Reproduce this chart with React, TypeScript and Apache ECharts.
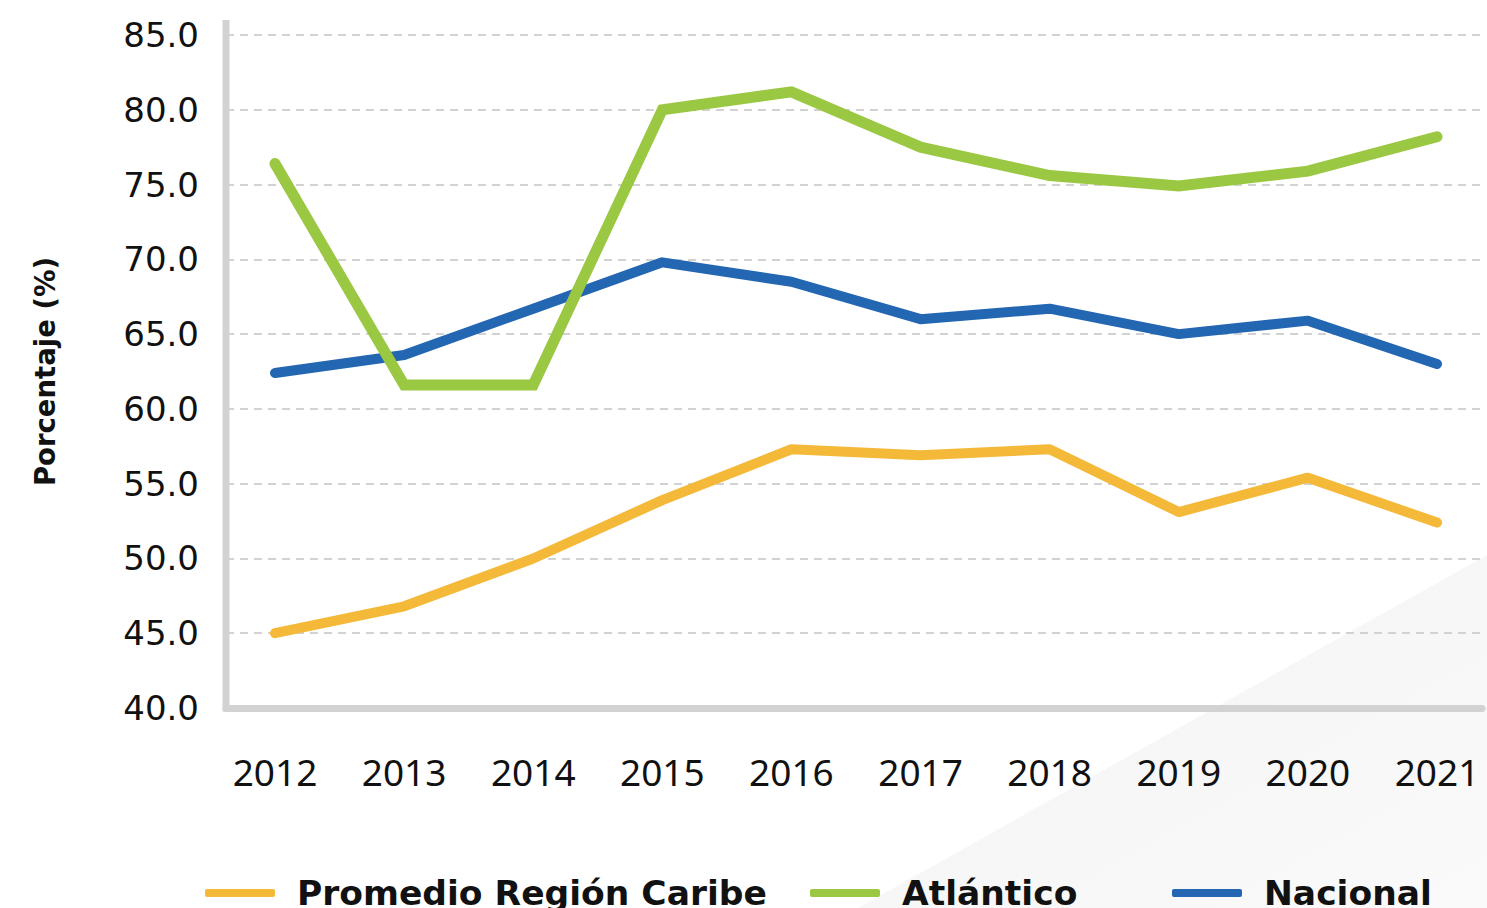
import React, { useEffect, useRef } from "react";
import * as echarts from "echarts";

const years = ["2012", "2013", "2014", "2015", "2016", "2017", "2018", "2019", "2020", "2021"];
const caribe = [45.0, 46.8, 50.0, 53.9, 57.3, 56.9, 57.3, 53.1, 55.4, 52.4];
const atlantico = [76.4, 61.6, 61.6, 80.0, 81.2, 77.5, 75.6, 74.9, 75.9, 78.2];
const nacional = [62.4, 63.6, 66.7, 69.8, 68.5, 66.0, 66.7, 65.0, 65.9, 63.0];
const seriesNames = ["Promedio Región Caribe", "Atlántico", "Nacional"];
const yMin = 40;
const yMax = 85;
const yStep = 5;

const COLORS = { caribe: "#F4B938", atlantico: "#9BC843", nacional: "#2366B1" };
const FONT = "'Noto Sans', sans-serif";
const WIDE = "'DejaVu Sans', sans-serif";

export default function App() {
  const ref = useRef<HTMLDivElement>(null);
  useEffect(() => {
    if (!ref.current) return;
    const chart = echarts.init(ref.current, null, { renderer: "svg" });
    const legendBase = {
      orient: "horizontal",
      top: 868,
      itemWidth: 70,
      itemHeight: 8,
      icon: "roundRect",
      selectedMode: false,
      textStyle: {
        fontFamily: WIDE,
        fontSize: 34.5,
        fontWeight: "bold",
        color: "#111",
        padding: [0, 0, 0, 17],
        lineHeight: 40,
      },
    };
    chart.setOption({
      animation: false,
      backgroundColor: "#ffffff",
      graphic: [
        {
          type: "polygon",
          z: -10,
          silent: true,
          shape: { points: [[858, 908], [1487, 555], [1487, 908]] },
          style: {
            fill: new echarts.graphic.LinearGradient(0, 0, 1, 1, [
              { offset: 0, color: "#f3f3f3" },
              { offset: 1, color: "#fafafa" },
            ]),
          },
        },
        {
          type: "line",
          z: 5,
          silent: true,
          shape: { x1: 226, y1: 20, x2: 226, y2: 711.5 },
          style: { stroke: "#d2d2d2", lineWidth: 7 },
        },
      ],
      legend: [
        { ...legendBase, left: 200, data: [seriesNames[0]] },
        { ...legendBase, left: 805, data: [seriesNames[1]] },
        { ...legendBase, left: 1167, data: [seriesNames[2]] },
      ],
      grid: [
        { left: 226, right: 5, top: 35, bottom: 200 },
        { left: 275, right: 50, top: 35, bottom: 200 },
      ],
      xAxis: [
        {
          gridIndex: 0,
          type: "value",
          min: 0,
          max: 1,
          axisLine: { show: true, lineStyle: { color: "#d2d2d2", width: 7 } },
          axisTick: { show: false },
          axisLabel: { show: false },
          splitLine: { show: false },
        },
        {
          gridIndex: 1,
          type: "category",
          boundaryGap: false,
          data: years,
          axisLine: { show: false },
          axisTick: { show: false },
          axisLabel: {
            margin: 45,
            fontFamily: FONT,
            fontSize: 37,
            color: "#111",
          },
          splitLine: { show: false },
        },
      ],
      yAxis: [
        {
          gridIndex: 0,
          type: "value",
          min: yMin,
          max: yMax,
          interval: yStep,
          name: "Porcentaje (%)",
          nameLocation: "middle",
          nameRotate: 90,
          nameGap: 155,
          nameTextStyle: {
            fontFamily: WIDE,
            fontSize: 27.5,
            fontWeight: "bold",
            color: "#111",
            padding: [0, 0, 12, 0],
          },
          axisLine: { show: false },
          axisTick: { show: false },
          axisLabel: {
            margin: 27,
            fontFamily: WIDE,
            fontSize: 34,
            color: "#111",
            formatter: (v: number) => v.toFixed(1),
          },
          splitLine: {
            show: true,
            lineStyle: { color: "#d2d2d2", width: 2, type: [8, 6] },
          },
        },
        {
          gridIndex: 1,
          type: "value",
          min: yMin,
          max: yMax,
          show: false,
          splitLine: { show: false },
        },
      ],
      series: [
        {
          name: seriesNames[2],
          type: "line",
          xAxisIndex: 1,
          yAxisIndex: 1,
          data: nacional,
          symbol: "none",
          color: COLORS.nacional,
          lineStyle: { width: 10, color: COLORS.nacional, cap: "round", join: "round" },
          z: 3,
        },
        {
          name: seriesNames[0],
          type: "line",
          xAxisIndex: 1,
          yAxisIndex: 1,
          data: caribe,
          symbol: "none",
          color: COLORS.caribe,
          lineStyle: { width: 10, color: COLORS.caribe, cap: "round", join: "round" },
          z: 3,
        },
        {
          name: seriesNames[1],
          type: "line",
          xAxisIndex: 1,
          yAxisIndex: 1,
          data: atlantico,
          symbol: "none",
          color: COLORS.atlantico,
          lineStyle: { width: 11, color: COLORS.atlantico, cap: "round", join: "miter" },
          z: 4,
        },
      ],
    });
    return () => chart.dispose();
  }, []);
  return (
    <div
      ref={ref}
      style={{ position: "absolute", left: 0, top: 0, width: 1487, height: 908 }}
    />
  );
}
